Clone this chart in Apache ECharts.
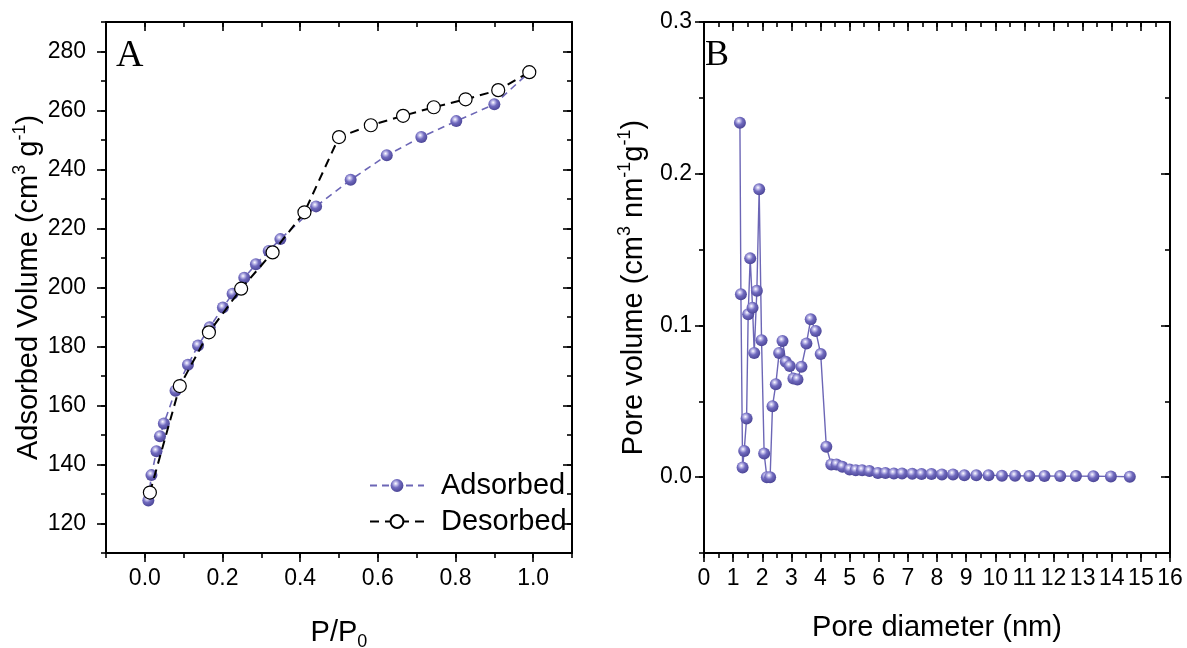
<!DOCTYPE html>
<html>
<head>
<meta charset="utf-8">
<script src="https://cdn.jsdelivr.net/npm/echarts@6/dist/echarts.min.js"></script>
<style>
html,body{margin:0;padding:0;background:#fff;}
#chart{width:1187px;height:648px;}
</style>
</head>
<body>
<div id="chart"></div>
<script>
// ---- Data ----
const adsX = [0.009, 0.017, 0.030, 0.039, 0.049, 0.079, 0.111, 0.137, 0.167, 0.201, 0.226, 0.256, 0.286, 0.319, 0.349, 0.441, 0.530, 0.623, 0.712, 0.802, 0.900, 0.990];
const adsY = [127.8, 136.4, 144.5, 149.6, 153.9, 165.0, 173.8, 180.3, 186.5, 193.2, 197.9, 203.3, 207.9, 212.4, 216.4, 227.5, 236.5, 244.8, 251.0, 256.4, 262.1, 273.0];
const desX = [0.013, 0.090, 0.165, 0.248, 0.329, 0.411, 0.500, 0.582, 0.665, 0.744, 0.826, 0.910, 0.990];
const desY = [130.5, 166.6, 184.8, 199.6, 211.9, 225.5, 251.0, 255.0, 258.2, 261.1, 263.8, 266.9, 273.0];

const poreD = [1.233, 1.267, 1.325, 1.380, 1.462, 1.517, 1.586, 1.667, 1.724, 1.815, 1.894, 1.976, 2.065, 2.158, 2.270, 2.352, 2.466, 2.580, 2.695, 2.808, 2.945, 3.070, 3.209, 3.346, 3.517, 3.664, 3.836, 4.007,
  4.20, 4.37, 4.55, 4.75, 5.00, 5.21, 5.43, 5.68, 5.97, 6.23, 6.52, 6.80, 7.15, 7.47, 7.81, 8.17, 8.55, 8.94, 9.35, 9.77, 10.23, 10.68, 11.17, 11.69, 12.23, 12.77, 13.37, 13.97, 14.62];
const poreV = [0.2336, 0.1206, 0.0064, 0.0173, 0.0387, 0.1073, 0.1442, 0.1116, 0.0819, 0.1228, 0.1897, 0.0903, 0.0156, 0.0000, 0.0000, 0.0468, 0.0613, 0.0819, 0.0898, 0.0760, 0.0732, 0.0650, 0.0644, 0.0727, 0.0881, 0.1040, 0.0964, 0.0811,
  0.0200, 0.0084, 0.0084, 0.0068, 0.0051, 0.0046, 0.0046, 0.0040, 0.0028, 0.0028, 0.0024, 0.0024, 0.0022, 0.0020, 0.0020, 0.0018, 0.0018, 0.0013, 0.0013, 0.0013, 0.0009, 0.0009, 0.0008, 0.0008, 0.0007, 0.0007, 0.0006, 0.0005, 0.0003];

// tick labels / positions
const leftXTicks = [0.0, 0.2, 0.4, 0.6, 0.8, 1.0];
const leftYTicks = [120, 140, 160, 180, 200, 220, 240, 260, 280];
const rightXTicks = [0,1,2,3,4,5,6,7,8,9,10,11,12,13,14,15,16];
const rightYTicks = [0.0, 0.1, 0.2, 0.3];

// ---- Styling ----
const FONT = 'Liberation Sans, Arial, sans-serif';
const purple = '#6c66b6';
const ball = new echarts.graphic.RadialGradient(0.4, 0.35, 0.65, [
  {offset: 0, color: '#ffffff'},
  {offset: 0.2, color: '#c4c0ec'},
  {offset: 0.5, color: '#716bbf'},
  {offset: 1, color: '#4c4697'}
]);

const grids = [
  {left: 106, top: 22, width: 466, height: 531, outerBoundsMode: 'none', containLabel: false},
  {left: 704, top: 22, width: 466, height: 531, outerBoundsMode: 'none', containLabel: false}
];

function axisSet(dim, gi, min, max, majors, minorStep, fmt, name, nameGap, labelMargin) {
  const lowPos = dim === 'x' ? 'bottom' : 'left';
  const highPos = dim === 'x' ? 'top' : 'right';
  const base = {type: 'value', gridIndex: gi, min: min, max: max, splitLine: {show: false}, scale: false};
  const tickStyle = {color: '#000', width: 1.6};
  const major = Object.assign({}, base, {
    position: lowPos,
    axisLine: {show: true, onZero: false, lineStyle: {color: '#000', width: 2}},
    axisTick: {show: true, customValues: majors, length: 9, inside: false, lineStyle: tickStyle},
    axisLabel: {show: true, customValues: majors, formatter: fmt, fontSize: 23, color: '#000', fontFamily: FONT, margin: labelMargin},
    name: name.text, nameLocation: 'middle', nameGap: nameGap,
    nameTextStyle: {fontSize: 29, color: '#000', fontFamily: FONT, rich: name.rich}
  });
  const minor = Object.assign({}, base, {
    position: lowPos, interval: minorStep,
    axisLine: {show: false, onZero: false},
    axisTick: {show: true, length: 5, inside: false, lineStyle: tickStyle},
    axisLabel: {show: false}
  });
  const majorHi = Object.assign({}, base, {
    position: highPos,
    axisLine: {show: true, onZero: false, lineStyle: {color: '#000', width: 2}},
    axisTick: {show: true, customValues: majors, length: 9, inside: true, lineStyle: tickStyle},
    axisLabel: {show: false}
  });
  const minorHi = Object.assign({}, base, {
    position: highPos, interval: minorStep,
    axisLine: {show: false, onZero: false},
    axisTick: {show: true, length: 5, inside: true, lineStyle: tickStyle},
    axisLabel: {show: false}
  });
  return [major, minor, majorHi, minorHi];
}

const supStyle = {fontSize: 18, verticalAlign: 'top', fontFamily: FONT, color: '#000', lineHeight: 32};
const subStyle = {fontSize: 18, verticalAlign: 'bottom', fontFamily: FONT, color: '#000', lineHeight: 32};
const baseRich = {fontSize: 29, fontFamily: FONT, color: '#000', lineHeight: 36};

const xAxes = [].concat(
  axisSet('x', 0, -0.1, 1.1, leftXTicks, 0.1, v => v.toFixed(1),
    {text: '{t|P/P}{sub|0}', rich: {t: baseRich, sub: subStyle}}, 62, 14),
  axisSet('x', 1, 0, 16, rightXTicks, 0.5, v => String(Math.round(v)),
    {text: 'Pore diameter (nm)', rich: {}}, 60, 14)
);
const yAxes = [].concat(
  axisSet('y', 0, 110, 290, leftYTicks, 10, v => String(Math.round(v)),
    {text: '{t|Adsorbed Volume (cm}{sup|3}{t| g}{sup|-1}{t|)}', rich: {t: baseRich, sup: supStyle}}, 58, 20),
  axisSet('y', 1, -0.05, 0.3, rightYTicks, 0.05, v => v.toFixed(1),
    {text: '{t|Pore volume (cm}{sup|3}{t| nm}{sup|-1}{t|g}{sup|-1}{t|)}', rich: {t: baseRich, sup: supStyle}}, 52, 12)
);

function pairs(xs, ys) { return xs.map((x, i) => [x, ys[i]]); }

const option = {
  animation: false,
  backgroundColor: '#fff',
  grid: grids,
  xAxis: xAxes,
  yAxis: yAxes,
  legend: {
    orient: 'vertical', left: 364, top: 466, itemWidth: 54, itemHeight: 16, itemGap: 7,
    textStyle: {fontSize: 29, color: '#000', fontFamily: FONT, padding: [0, 0, 0, 12]},
    data: ['Adsorbed', 'Desorbed']
  },
  graphic: [
    {type: 'text', left: 116, top: 37, z: 100, style: {text: 'A', font: '38px "Liberation Serif", "Times New Roman", serif', fill: '#000'}},
    {type: 'text', left: 705, top: 38, z: 100, style: {text: 'B', font: '36px "Liberation Serif", "Times New Roman", serif', fill: '#000'}}
  ],
  series: [
    {
      name: 'Adsorbed', type: 'line', xAxisIndex: 0, yAxisIndex: 0,
      data: pairs(adsX, adsY), symbol: 'circle', symbolSize: 12, z: 2,
      itemStyle: {color: ball},
      lineStyle: {color: purple, width: 1.6, type: [7, 5]}
    },
    {
      name: 'Desorbed', type: 'line', xAxisIndex: 0, yAxisIndex: 0,
      data: pairs(desX, desY), symbol: 'circle', symbolSize: 13, z: 3,
      itemStyle: {color: '#fff', borderColor: '#000', borderWidth: 1.2},
      lineStyle: {color: '#000', width: 2, type: [9, 6]}
    },
    {
      name: 'Pore', type: 'line', xAxisIndex: 4, yAxisIndex: 4,
      data: pairs(poreD, poreV), symbol: 'circle', symbolSize: 12,
      itemStyle: {color: ball},
      lineStyle: {color: purple, width: 1.4}
    }
  ]
};

const chart = echarts.init(document.getElementById('chart'), null, {renderer: 'canvas'});
chart.setOption(option);
</script>
</body>
</html>
